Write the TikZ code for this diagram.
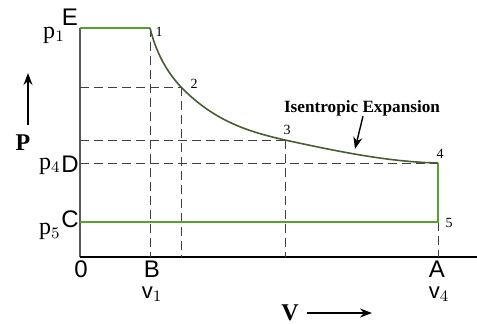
\documentclass[tikz,border=0pt]{standalone}
\usepackage{fontspec}
\setmainfont{Liberation Serif}
\setsansfont{Liberation Sans}
\usetikzlibrary{arrows.meta}
\definecolor{cyclegreen}{RGB}{86,160,52}
\definecolor{curveolive}{RGB}{74,92,52}
\definecolor{axisgray}{RGB}{90,90,90}
\tikzset{
  axis/.style={axisgray,line width=0.7pt},
  guide/.style={dashed,dash pattern=on 4.5pt off 2.5pt,black!75,line width=0.5pt},
  cyc/.style={cyclegreen,line width=1.2pt},
  expcurve/.style={curveolive,line width=0.8pt},
  ptlab/.style={font=\fontsize{7}{8}\selectfont,inner sep=0pt},
  sflab/.style={font=\sffamily\fontsize{12}{13}\selectfont,inner sep=0pt},
  vlab/.style={font=\sffamily\fontsize{11}{12}\selectfont,inner sep=0pt,anchor=base},
  plab/.style={font=\fontsize{12}{13}\selectfont,inner sep=0pt},
  quant/.style={font=\bfseries\fontsize{12}{13}\selectfont,inner sep=0pt},
  dirarrow/.style={-{Stealth[length=6pt,width=4.5pt]},line width=0.7pt}
}

\begin{document}
\begin{tikzpicture}[x=0.5pt,y=-0.5pt]
  \useasboundingbox (0,0) rectangle (477,323);
  % state points
  \coordinate (O) at (80,257);
  \coordinate (E) at (80,28);
  \coordinate (p1) at (150,28);
  \coordinate (p2) at (181,87);
  \coordinate (p3) at (285,140);
  \coordinate (p4) at (438,163);
  \coordinate (p5) at (438,222);
  \coordinate (C) at (80,222);
  \coordinate (xend) at (477,257);
  % axes
  \draw[axis] (O) -- (E);
  \draw[axis,black] (O) -- (xend);
  % guide lines
  \draw[guide] (p1) -- (p1 |- O);
  \draw[guide] (p2) -- (p2 |- O);
  \draw[guide] (p3) -- (p3 |- O);
  \draw[guide] (p5) -- (p5 |- O);
  \draw[guide] (O |- p2) -- (p2);
  \draw[guide] (O |- p3) -- (p3);
  \draw[guide] (O |- p4) -- (p4);
  % cycle
  \draw[cyc] (E) -- (p1);
  \draw[cyc] (p4) -- (p5) -- (C);
  \draw[expcurve] (p1) .. controls (156,52) and (166,71) .. (p2)
    .. controls (215,122) and (250,132) .. (p3)
    .. controls (340,152) and (390,162) .. (p4);
  % point labels
  \node[ptlab] (l1) at (159,32) {1};
  \node[ptlab] (l2) at (194,84) {2};
  \node[ptlab] (l3) at (287,130) {3};
  \node[ptlab] (l4) at (440,154) {4};
  \node[ptlab] (l5) at (449,223) {5};
  % axis letters
  \node[sflab] (lE) at (70,17) {E};
  \node[plab] (lp1) at (54,35) {p$_1$};
  \node[sflab] (lD) at (70,164) {D};
  \node[plab,anchor=east] (lp4) at ([yshift=-1pt]lD.west) {p$_4$};
  \node[sflab] (lC) at (70,219) {C};
  \node[plab,anchor=north east] (lp5) at ([yshift=2.5pt]lC.south west) {p$_5$};
  \node[sflab] (l0) at (81,269) {0};
  \node[sflab] (lB) at (152,269) {B};
  \node[vlab] (lv1) at (152,298) {v$_1$};
  \node[sflab] (lA) at (437,269) {A};
  \node[vlab] (lv4) at (439,298) {v$_4$};
  % quantities
  \node[quant] (lP) at (23,143) {P};
  \coordinate (Pfrom) at (28,125);
  \coordinate (Pto) at (28,73);
  \draw[dirarrow] (Pfrom) -- (Pto);
  \node[quant] (lV) at (290,313) {V};
  \coordinate (Vfrom) at (307,313);
  \coordinate (Vto) at (372,313);
  \draw[dirarrow] (Vfrom) -- (Vto);
  % process label
  \node[font=\bfseries\fontsize{8.6}{10}\selectfont,inner sep=0pt] (iso) at (362,108) {Isentropic Expansion};
  \coordinate (isotip) at (355,149);
  \draw[dirarrow] (iso.south -| 363,0) -- (isotip);
\end{tikzpicture}
\end{document}
